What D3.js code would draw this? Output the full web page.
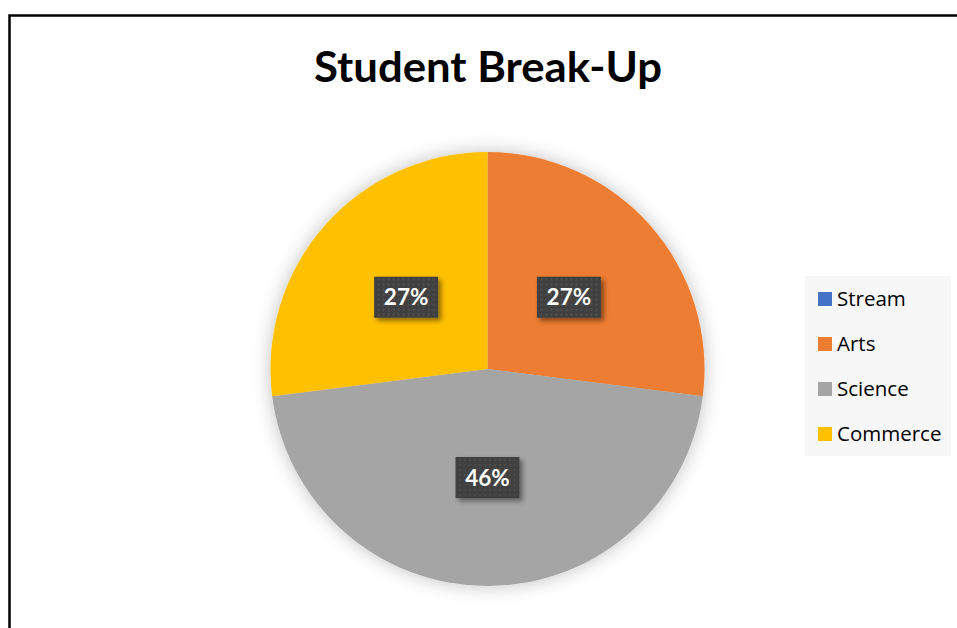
<!DOCTYPE html>
<html><head><meta charset="utf-8">
<script src="https://cdn.jsdelivr.net/npm/d3@7"></script>
<style>html,body{margin:0;padding:0;background:#fff;overflow:hidden}</style>
</head><body>
<svg id="chart" width="957" height="628"></svg>
<script>
const title = "Student Break-Up";
const categories = ["Stream", "Arts", "Science", "Commerce"];
const values = [0, 27, 46, 27];
const colors = ["#4472C4", "#ED7D31", "#A5A5A5", "#FFC000"];

const svg = d3.select("#chart");
const defs = svg.append("defs");

const glow = defs.append("filter").attr("id", "pieShadow")
  .attr("x", "-20%").attr("y", "-20%").attr("width", "140%").attr("height", "140%");
glow.append("feDropShadow").attr("dx", 0).attr("dy", 0).attr("stdDeviation", 9)
  .attr("flood-color", "#000").attr("flood-opacity", 0.25);

const lblShadow = defs.append("filter").attr("id", "lblShadow")
  .attr("x", "-30%").attr("y", "-30%").attr("width", "170%").attr("height", "170%");
lblShadow.append("feDropShadow").attr("dx", 3).attr("dy", 3).attr("stdDeviation", 2.5)
  .attr("flood-color", "#000").attr("flood-opacity", 0.45);

const pat = defs.append("pattern").attr("id", "dots").attr("patternUnits", "userSpaceOnUse")
  .attr("width", 5).attr("height", 5);
pat.append("rect").attr("width", 5).attr("height", 5).attr("fill", "#404040");
pat.append("circle").attr("cx", 2.5).attr("cy", 2.5).attr("r", 1).attr("fill", "#555555");

// chart border
svg.append("rect").attr("x", 9.5).attr("y", 15.5).attr("width", 1100).attr("height", 800)
  .attr("fill", "#fff").attr("stroke", "#000").attr("stroke-width", 2.5);

// title
svg.append("text").attr("x", 488).attr("y", 82).attr("text-anchor", "middle")
  .attr("font-family", "Lato, 'Open Sans', sans-serif").attr("font-weight", 700)
  .attr("font-size", 42).attr("fill", "#000")
  .attr("textLength", 348).attr("lengthAdjust", "spacingAndGlyphs")
  .text(title);

// pie
const cx = 487.5, cy = 369, R = 217;
const total = d3.sum(values);
const pie = d3.pie().sort(null).value(d => d.value);
const data = categories.map((c, i) => ({ name: c, value: values[i], color: colors[i] }));
const arcs = pie(data);
const arc = d3.arc().innerRadius(0).outerRadius(R);

const g = svg.append("g").attr("transform", `translate(${cx},${cy})`);
g.append("g").attr("filter", "url(#pieShadow)")
  .selectAll("path").data(arcs.filter(d => d.data.value > 0)).join("path")
  .attr("d", arc).attr("fill", d => d.data.color);

const fmt = d3.format(".0%");
const lbl = g.selectAll("g.lbl").data(arcs.filter(d => d.data.value > 0)).join("g")
  .attr("class", "lbl")
  .attr("transform", d => { const [x, y] = arc.centroid(d); return `translate(${x},${y})`; });
lbl.append("rect").attr("x", -32).attr("y", -20.5).attr("width", 64).attr("height", 41)
  .attr("fill", "url(#dots)").attr("filter", "url(#lblShadow)");
lbl.append("text").attr("text-anchor", "middle").attr("y", 8)
  .attr("font-family", "Lato, 'Open Sans', sans-serif").attr("font-weight", 700)
  .attr("font-size", 22.5).attr("fill", "#fff")
  .text(d => fmt(d.data.value / total));

// legend
const lg = svg.append("g");
lg.append("rect").attr("x", 805).attr("y", 276).attr("width", 146).attr("height", 180).attr("fill", "#f7f7f7");
const items = lg.selectAll("g.item").data(data).join("g").attr("class", "item")
  .attr("transform", (d, i) => `translate(818,${292 + i * 45})`);
items.append("rect").attr("width", 14).attr("height", 14).attr("fill", d => d.color);
items.append("text").attr("x", 19).attr("y", 14)
  .attr("font-family", "'Open Sans', sans-serif").attr("font-size", 20.5).attr("fill", "#000")
  .text(d => d.name);
</script>
</body></html>
